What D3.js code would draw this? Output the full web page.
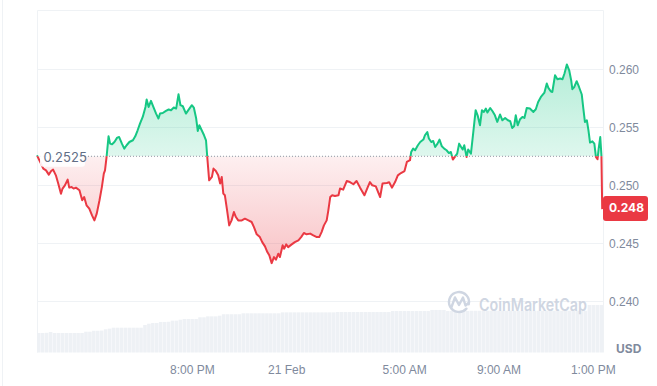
<!DOCTYPE html>
<html>
<head>
<meta charset="utf-8">
<script src="https://cdn.jsdelivr.net/npm/d3@7"></script>
<style>
  body { margin: 0; background: #fff; }
  svg { display: block; font-family: Inter, "Noto Sans", sans-serif; }
</style>
</head>
<body>
<svg id="chart" width="657" height="386"></svg>
<script>
// [minutes since start, price in USD]
const pricePoints = [
  [0,0.25258],[10,0.25187],[16,0.25144],[23,0.25129],[30,0.25092],[36,0.25123],[41,0.25135],[48,0.25086],
  [54,0.25015],[61,0.24928],[65,0.24972],[71,0.25000],[78,0.25049],[82,0.24980],[88,0.24985],[93,0.24972],
  [99,0.24980],[108,0.24957],[115,0.24871],[120,0.24899],[126,0.24828],[133,0.24799],[140,0.24741],[146,0.24698],
  [152,0.24756],[159,0.24871],[165,0.24985],[170,0.25101],[173,0.25129],[177,0.25244],[182,0.25422],[186,0.25359],
  [191,0.25353],[197,0.25373],[204,0.25411],[209,0.25416],[216,0.25359],[222,0.25316],[228,0.25345],[235,0.25373],
  [244,0.25388],[250,0.25422],[256,0.25474],[262,0.25532],[269,0.25589],[276,0.25675],[279,0.25739],[284,0.25675],
  [290,0.25727],[296,0.25675],[303,0.25618],[309,0.25575],[313,0.25618],[320,0.25623],[328,0.25641],[335,0.25653],
  [341,0.25647],[348,0.25670],[354,0.25661],[360,0.25784],[365,0.25690],[371,0.25681],[379,0.25618],[385,0.25647],
  [394,0.25690],[399,0.25670],[405,0.25575],[409,0.25468],[413,0.25517],[419,0.25474],[425,0.25431],[430,0.25388],
  [433,0.25250],[438,0.25043],[445,0.25072],[449,0.25144],[455,0.25123],[461,0.25086],[466,0.25015],[470,0.25072],
  [474,0.24928],[478,0.24914],[483,0.24799],[489,0.24655],[495,0.24698],[501,0.24770],[506,0.24727],[512,0.24698],
  [521,0.24698],[529,0.24713],[538,0.24698],[546,0.24684],[552,0.24640],[559,0.24578],[567,0.24554],[573,0.24511],
  [580,0.24474],[586,0.24425],[591,0.24397],[597,0.24330],[603,0.24382],[608,0.24359],[614,0.24411],[618,0.24382],
  [625,0.24483],[629,0.24454],[634,0.24491],[639,0.24468],[648,0.24491],[656,0.24511],[665,0.24526],[672,0.24554],
  [679,0.24589],[686,0.24578],[695,0.24584],[703,0.24569],[712,0.24554],[718,0.24554],[724,0.24597],[730,0.24655],
  [737,0.24698],[741,0.24780],[746,0.24899],[751,0.24914],[758,0.24908],[767,0.24914],[771,0.24972],[779,0.24963],
  [788,0.25037],[796,0.25028],[805,0.25009],[813,0.25037],[822,0.24980],[833,0.24914],[841,0.24980],[847,0.25028],
  [853,0.25000],[862,0.24991],[873,0.24899],[879,0.25015],[890,0.25020],[896,0.25026],[903,0.24980],[911,0.25028],
  [918,0.25086],[926,0.25106],[935,0.25123],[941,0.25201],[949,0.25216],[952,0.25287],[957,0.25316],[962,0.25302],
  [969,0.25345],[975,0.25373],[983,0.25394],[987,0.25431],[993,0.25459],[997,0.25403],[1003,0.25373],[1008,0.25382],
  [1013,0.25330],[1019,0.25359],[1024,0.25394],[1030,0.25336],[1036,0.25316],[1042,0.25302],[1048,0.25278],[1053,0.25287],
  [1058,0.25222],[1064,0.25250],[1069,0.25273],[1074,0.25359],[1079,0.25330],[1083,0.25308],[1087,0.25345],[1093,0.25244],
  [1097,0.25308],[1104,0.25273],[1110,0.25459],[1116,0.25647],[1121,0.25603],[1127,0.25517],[1132,0.25647],[1137,0.25632],
  [1142,0.25661],[1146,0.25627],[1153,0.25666],[1159,0.25638],[1165,0.25603],[1171,0.25546],[1178,0.25610],[1184,0.25560],
  [1191,0.25580],[1198,0.25560],[1204,0.25552],[1209,0.25494],[1214,0.25511],[1218,0.25603],[1223,0.25517],[1229,0.25569],
  [1235,0.25589],[1240,0.25580],[1246,0.25666],[1254,0.25661],[1263,0.25632],[1269,0.25655],[1275,0.25718],[1282,0.25761],
  [1291,0.25799],[1297,0.25877],[1301,0.25839],[1307,0.25810],[1311,0.25804],[1318,0.25948],[1324,0.25914],[1331,0.25920],
  [1337,0.25914],[1342,0.25963],[1348,0.26041],[1354,0.25991],[1359,0.25905],[1362,0.25828],[1367,0.25847],[1373,0.25897],
  [1379,0.25847],[1386,0.25782],[1390,0.25661],[1394,0.25546],[1399,0.25560],[1403,0.25474],[1407,0.25368],[1413,0.25379],
  [1418,0.25359],[1422,0.25244],[1426,0.25224],[1429,0.25316],[1433,0.25416],[1436,0.25259],[1438,0.24795]
];

// 24h volume, one value per 10 minutes (millions USD)
const volumes = [
  122,122,123,128,122,122,122,122,122,122,122,122,130,130,136,136,137,145,149,155,
  155,155,155,155,155,155,155,172,180,184,184,191,191,192,199,199,205,209,209,209,
  209,220,220,226,226,226,230,239,239,239,239,239,245,245,245,245,245,245,245,245,
  245,245,251,251,251,251,251,251,251,251,251,251,251,251,251,251,253,253,253,253,
  253,253,253,253,253,253,253,253,253,253,259,259,259,259,259,259,259,259,259,259,
  266,266,266,266,259,259,259,259,259,259,261,261,261,261,261,261,261,261,261,261,
  261,261,261,261,261,261,261,261,261,261,261,261,261,261,261,261,261,261,261,261,
  297,297,297,297
];

const openPrice = 0.2525;
const lastPrice = 0.248;
const yTicks = [0.240, 0.245, 0.250, 0.255, 0.260];
const xTickLabels = [
  [new Date(2024, 1, 20, 20, 0), "8:00 PM"],
  [new Date(2024, 1, 21, 0, 0), "21 Feb"],
  [new Date(2024, 1, 21, 5, 0), "5:00 AM"],
  [new Date(2024, 1, 21, 9, 0), "9:00 AM"],
  [new Date(2024, 1, 21, 13, 0), "1:00 PM"]
];

const start = new Date(2024, 1, 20, 13, 26);
const end = new Date(start.getTime() + 24 * 3600 * 1000);

const plotLeft = 37, plotRight = 603, plotTop = 10, plotBottom = 352.5;
const grey = "#808a9d";
const green = "#16c784", red = "#ea3943";

const svg = d3.select("#chart");

const x = d3.scaleTime().domain([start, end]).range([plotLeft, plotRight]);
const y = d3.scaleLinear().domain([0.2356, 0.2651]).range([plotBottom, plotTop]);
const vy = d3.scaleLinear().domain([0, 500]).range([plotBottom, plotBottom - 80]);
const vx = d3.scaleBand().domain(d3.range(volumes.length)).range([plotLeft, plotRight]).paddingInner(0.1);

const data = pricePoints.map(([m, p]) => ({ t: new Date(start.getTime() + m * 60000), p }));
const baseY = y(openPrice);

// outer container edge
svg.append("line").attr("x1", 2.5).attr("x2", 2.5).attr("y1", 0).attr("y2", 386)
  .attr("stroke", "#eff2f5");

// grid
svg.append("g").selectAll("line").data(yTicks).join("line")
  .attr("x1", plotLeft).attr("x2", plotRight)
  .attr("y1", d => Math.round(y(d)) + 0.5).attr("y2", d => Math.round(y(d)) + 0.5)
  .attr("stroke", "#eff2f5");
svg.append("path")
  .attr("d", `M${plotLeft + 0.5},${plotBottom}V${plotTop + 0.5}H${plotRight + 0.5}V${plotBottom}`)
  .attr("fill", "none").attr("stroke", "#eff2f5");

// volume bars
svg.append("g").selectAll("rect").data(volumes).join("rect")
  .attr("x", (d, i) => vx(i)).attr("width", vx.bandwidth())
  .attr("y", d => vy(d)).attr("height", d => plotBottom - vy(d))
  .attr("fill", "#eef1f5");

// watermark
const wm = svg.append("g").attr("fill", "none").attr("stroke", "#cfd6e2")
  .attr("stroke-width", 2.4).attr("stroke-linecap", "round").attr("stroke-linejoin", "round");
wm.append("path").attr("d", d3.arc()({ innerRadius: 10, outerRadius: 10, startAngle: 2.3, endAngle: 2 * Math.PI + 1.8 }))
  .attr("transform", "translate(459,302)");
wm.append("path").attr("d", "M451.5,307 L455,297.5 L459,305 L463,297.5 L465.5,305.5 L468.5,303");
svg.append("text").attr("x", 479).attr("y", 310.5)
  .attr("font-size", 17).attr("font-weight", 600).attr("fill", "#cfd6e2")
  .attr("textLength", 108).attr("lengthAdjust", "spacingAndGlyphs")
  .text("CoinMarketCap");

// gradients + clips
const defs = svg.append("defs");
const pMax = d3.max(data, d => d.p), pMin = d3.min(data, d => d.p);
const gUp = defs.append("linearGradient").attr("id", "gUp").attr("gradientUnits", "userSpaceOnUse")
  .attr("x1", 0).attr("x2", 0).attr("y1", y(pMax)).attr("y2", baseY);
gUp.append("stop").attr("offset", 0).attr("stop-color", green).attr("stop-opacity", 0.32);
gUp.append("stop").attr("offset", 1).attr("stop-color", green).attr("stop-opacity", 0.14);
const gDn = defs.append("linearGradient").attr("id", "gDn").attr("gradientUnits", "userSpaceOnUse")
  .attr("x1", 0).attr("x2", 0).attr("y1", baseY).attr("y2", y(pMin));
gDn.append("stop").attr("offset", 0).attr("stop-color", red).attr("stop-opacity", 0.08);
gDn.append("stop").attr("offset", 1).attr("stop-color", red).attr("stop-opacity", 0.3);

defs.append("clipPath").attr("id", "cUp").append("rect")
  .attr("x", 0).attr("y", 0).attr("width", 657).attr("height", baseY);
defs.append("clipPath").attr("id", "cDn").append("rect")
  .attr("x", 0).attr("y", baseY).attr("width", 657).attr("height", 386 - baseY);

const area = d3.area().x(d => x(d.t)).y0(baseY).y1(d => y(d.p));
const line = d3.line().x(d => x(d.t)).y(d => y(d.p));

svg.append("path").datum(data).attr("d", area).attr("fill", "url(#gUp)").attr("clip-path", "url(#cUp)");
svg.append("path").datum(data).attr("d", area).attr("fill", "url(#gDn)").attr("clip-path", "url(#cDn)");

// baseline
svg.append("line").attr("x1", plotLeft).attr("x2", plotRight).attr("y1", baseY).attr("y2", baseY)
  .attr("stroke", "#8f96a3").attr("stroke-width", 1).attr("stroke-dasharray", "1,2");

svg.append("path").datum(data).attr("d", line).attr("fill", "none").attr("stroke", green)
  .attr("stroke-width", 2).attr("stroke-linejoin", "round").attr("clip-path", "url(#cUp)");
svg.append("path").datum(data).attr("d", line).attr("fill", "none").attr("stroke", red)
  .attr("stroke-width", 2).attr("stroke-linejoin", "round").attr("clip-path", "url(#cDn)");

// open price label
svg.append("rect").attr("x", 40).attr("y", baseY - 9.5).attr("width", 45).attr("height", 20)
  .attr("rx", 3).attr("fill", "#fff").attr("fill-opacity", 0.9);
svg.append("text").attr("x", 43.5).attr("y", baseY + 2).attr("dominant-baseline", "middle")
  .attr("font-size", 13).attr("fill", "#616e85").text(openPrice.toFixed(4));

// y axis labels
const yAxis = d3.axisRight(y).tickValues(yTicks).tickFormat(d3.format(".3f")).tickSize(0).tickPadding(6);
svg.append("g").attr("transform", `translate(${plotRight},0)`).call(yAxis)
  .call(g => g.select(".domain").remove())
  .call(g => g.selectAll("text").attr("fill", grey).attr("font-size", 12).attr("font-family", null));

svg.append("text").attr("x", 616).attr("y", 350).attr("dominant-baseline", "middle")
  .attr("font-size", 12).attr("font-weight", 700).attr("fill", grey).text("USD");

// last price tag
svg.append("rect").attr("x", plotRight).attr("y", y(lastPrice) - 12.5).attr("width", 45).attr("height", 25)
  .attr("rx", 3).attr("fill", red);
svg.append("text").attr("x", 609).attr("y", y(lastPrice) + 0.5).attr("dominant-baseline", "middle")
  .attr("font-size", 12).attr("font-weight", 700).attr("fill", "#fff").text(lastPrice.toFixed(3));

// x axis labels
const xAxis = d3.axisBottom(x).tickValues(xTickLabels.map(d => d[0]))
  .tickFormat((d, i) => xTickLabels[i][1]).tickSize(0).tickPadding(0);
svg.append("g").attr("transform", "translate(0,365)").call(xAxis)
  .call(g => g.select(".domain").remove())
  .call(g => g.selectAll("text").attr("fill", grey).attr("font-size", 12).attr("font-family", null));
</script>
</body>
</html>
